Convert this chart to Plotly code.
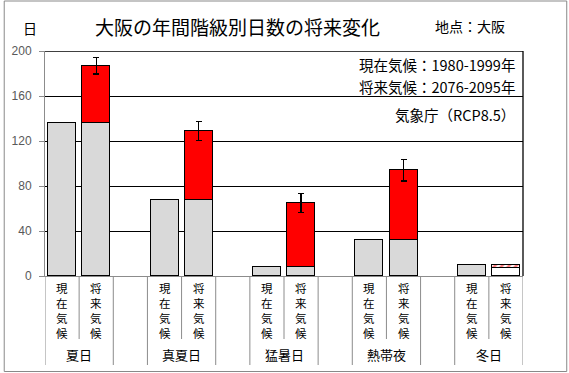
import plotly.graph_objects as go

categories = ["夏日", "真夏日", "猛暑日", "熱帯夜", "冬日"]
current = [136, 68, 8, 32, 10]
future = [187, 129, 65, 94, 7]
future_err = [7.5, 8.5, 8.5, 9.5]
inner_labels = ["現在気候", "将来気候"]
y_ticks = [0, 40, 80, 120, 160, 200]

FONT = "Noto Sans CJK JP"
cur_x = [3 * i for i in range(len(categories))]
fut_x = [3 * i + 1 for i in range(len(categories))]

fig = go.Figure()
line = dict(color="black", width=1.3)

# current climate bars
fig.add_trace(go.Bar(x=cur_x, y=current, width=0.82,
                     marker=dict(color="#D9D9D9", line=line), showlegend=False))
# future base part
base_vals = [min(c, f) for c, f in zip(current, future)]
base_cols = ["#D9D9D9" if f >= c else "white" for c, f in zip(current, future)]
fig.add_trace(go.Bar(x=fut_x, y=base_vals, width=0.82,
                     marker=dict(color=base_cols, line=line), showlegend=False))
# increase part (red) with error bars
inc_x = [x for x, c, f in zip(fut_x, current, future) if f > c]
inc_y = [f - c for c, f in zip(current, future) if f > c]
fig.add_trace(go.Bar(x=inc_x, y=inc_y, width=0.82,
                     marker=dict(color="#FF0000", line=line),
                     error_y=dict(type="data", array=future_err[:len(inc_x)],
                                  color="black", thickness=1.3, width=3),
                     showlegend=False))
# decrease part (hatched)
dec_x = [x for x, c, f in zip(fut_x, current, future) if f < c]
dec_y = [c - f for c, f in zip(current, future) if f < c]
fig.add_trace(go.Bar(x=dec_x, y=dec_y, width=0.82,
                     marker=dict(color="#FF0000", line=line,
                                 pattern=dict(shape="/", fgcolor="#FF0000",
                                              bgcolor="white", size=5, solidity=0.5)),
                     showlegend=False))

shapes = []
# right border of plot and top line
shapes.append(dict(type="line", xref="paper", yref="y", x0=1, x1=1, y0=0, y1=200,
                   line=dict(color="black", width=1.3)))
shapes.append(dict(type="line", xref="paper", yref="y", x0=0, x1=1, y0=200, y1=200,
                   line=dict(color="black", width=1.3)))
# category separators
long_sep = [-0.5, 13.5] + [3 * i + 1.5 for i in range(4)] + [3 * i + 2.5 for i in range(4)]
short_sep = [3 * i + 0.5 for i in range(5)]
for xs in long_sep:
    shapes.append(dict(type="line", xref="x", yref="paper", x0=xs, x1=xs, y0=0, y1=-0.3956,
                       line=dict(color="#8C8C8C", width=1)))
for xs in short_sep:
    shapes.append(dict(type="line", xref="x", yref="paper", x0=xs, x1=xs, y0=0, y1=-0.28,
                       line=dict(color="#8C8C8C", width=1)))
# outer border
shapes.append(dict(type="rect", xref="paper", yref="paper", x0=-0.0853, x1=1.0915,
                   y0=-0.4245, y1=1.2222, line=dict(color="#898989", width=1)))

annotations = []
for i in range(len(categories)):
    for j, lab in enumerate(inner_labels):
        annotations.append(dict(x=3 * i + j, y=-0.153, xref="x", yref="paper",
                                text="<br>".join(lab), showarrow=False,
                                font=dict(family=FONT, size=11.5, color="black"),
                                xanchor="center", yanchor="middle", borderpad=0))
    annotations.append(dict(x=3 * i + 0.5, y=-0.351, xref="x", yref="paper",
                            text=categories[i], showarrow=False,
                            font=dict(family=FONT, size=13, color="black"),
                            xanchor="center", yanchor="middle"))

annotations += [
    dict(x=0.403, y=1.111, xref="paper", yref="paper", text="大阪の年間階級別日数の将来変化",
         showarrow=False, font=dict(family=FONT, size=19, color="black"),
         xanchor="center", yanchor="middle"),
    dict(x=0.89, y=1.111, xref="paper", yref="paper", text="地点：大阪",
         showarrow=False, font=dict(family=FONT, size=14, color="black"),
         xanchor="center", yanchor="middle"),
    dict(x=-0.0318, y=1.1, xref="paper", yref="paper", text="日",
         showarrow=False, font=dict(family=FONT, size=14, color="black"),
         xanchor="center", yanchor="middle"),
    dict(x=0.9875, y=0.9378, xref="paper", yref="paper", text="現在気候：1980-1999年",
         showarrow=False, font=dict(family=FONT, size=14.5, color="black"),
         xanchor="right", yanchor="middle"),
    dict(x=0.9875, y=0.8444, xref="paper", yref="paper", text="将来気候：2076-2095年",
         showarrow=False, font=dict(family=FONT, size=14.5, color="black"),
         xanchor="right", yanchor="middle"),
    dict(x=0.9875, y=0.72, xref="paper", yref="paper", text="気象庁（RCP8.5）",
         showarrow=False, font=dict(family=FONT, size=14.5, color="black"),
         xanchor="right", yanchor="middle"),
]

fig.update_layout(
    width=569, height=373,
    margin=dict(l=42, r=46, t=51, b=97),
    paper_bgcolor="white", plot_bgcolor="white",
    barmode="stack", bargap=0,
    shapes=shapes, annotations=annotations,
    xaxis=dict(range=[-0.5, 13.5], showticklabels=False, showgrid=False,
               zeroline=False, showline=True, linecolor="#8C8C8C", linewidth=1,
               ticks="", fixedrange=True),
    yaxis=dict(range=[0, 200], tickvals=y_ticks, showgrid=True, gridcolor="black",
               gridwidth=1.3, zeroline=False, showline=True, linecolor="#8C8C8C",
               linewidth=1, ticks="outside", ticklen=5, tickcolor="#8C8C8C",
               ticklabelstandoff=5, fixedrange=True,
               tickfont=dict(family="Liberation Sans", size=12, color="#595959")),
)

fig.write_html("out.html", config={"displayModeBar": False},
               post_script="document.body.style.margin='0';document.body.style.overflow='hidden';")
